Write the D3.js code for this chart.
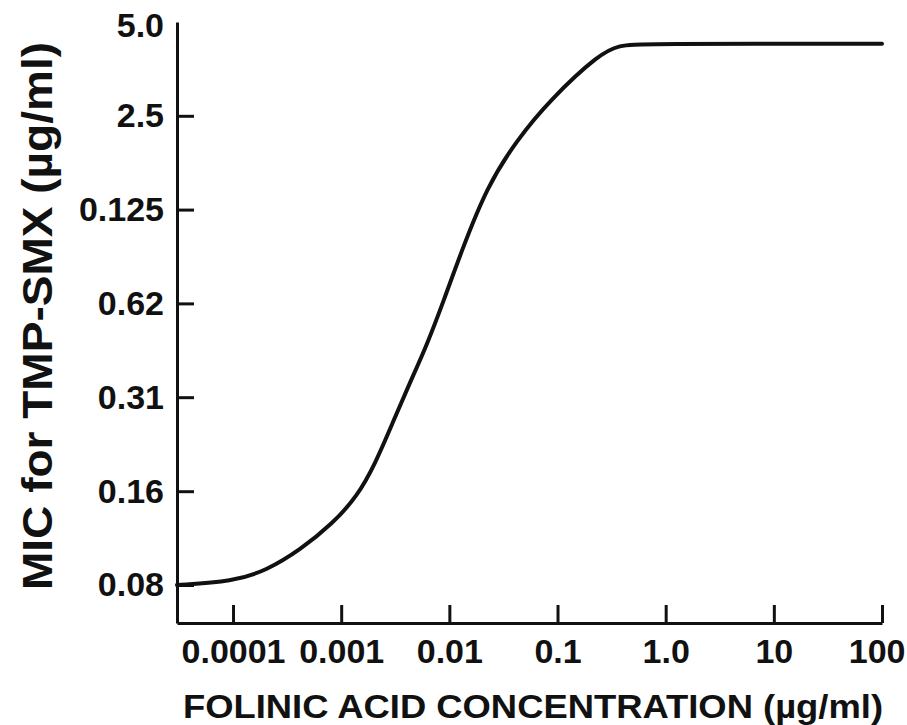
<!DOCTYPE html>
<html>
<head>
<meta charset="utf-8">
<style>
  body { margin: 0; background: white; }
  text { font-family: "Liberation Sans", Arial, sans-serif; fill: #111; }
</style>
</head>
<body>
<div id="container"></div>
<script src="https://cdn.jsdelivr.net/npm/d3@7"></script>
<script>

// folinic acid concentration (ug/ml)
var folinic = [3.03e-5, 1.0e-4, 2.06e-4, 4.16e-4, 8.39e-4, 1.40e-3, 2.05e-3, 3.01e-3,
               4.32e-3, 6.21e-3, 8.91e-3, 0.0131, 0.0222, 0.0421, 0.0851, 0.247, 0.377, 0.577, 100];

// MIC for TMP-SMX (ug/ml) at those concentrations
var mic = [0.078, 0.080, 0.087, 0.101, 0.123, 0.150, 0.190, 0.260,
           0.348, 0.460, 0.641, 0.929, 1.478, 2.092, 2.812, 3.97, 4.21, 4.26, 4.26];

// y ticks are twofold dilutions, labels as printed in the figure
var yTicks = [0.078, 0.156, 0.3125, 0.625, 1.25, 2.5, 5.0];
var yLabels = ["0.08", "0.16", "0.31", "0.62", "0.125", "2.5", "5.0"];

var xTicks = [0.0001, 0.001, 0.01, 0.1, 1, 10, 100];
var xLabels = ["0.0001", "0.001", "0.01", "0.1", "1.0", "10", "100"];

var W = 907, H = 725;

var svg = d3.select("#container")
  .append("svg")
    .attr("width", W)
    .attr("height", H);

// log scales, axis starts a bit left of 0.0001 and below 0.08
var x = d3.scaleLog()
  .domain([Math.pow(10, -4.518), 100])
  .range([177, 882]);

var y = d3.scaleLog()
  .base(2)
  .domain([0.0589, 5.0])
  .range([623, 22]);

// x axis, ticks pointing up
var xAxis = svg.append("g")
  .attr("transform", "translate(0,623)")
  .call(d3.axisBottom(x)
    .tickValues(xTicks)
    .tickFormat(function(d, i) { return xLabels[i]; })
    .tickSizeInner(-18)
    .tickSizeOuter(0)
    .tickPadding(16));

// last label runs to the edge, keep it inside
xAxis.selectAll(".tick text")
  .filter(function(d) { return d === 100; })
  .attr("text-anchor", "end")
  .attr("x", 23);

// y axis, ticks pointing right
var yAxis = svg.append("g")
  .attr("transform", "translate(177,0)")
  .call(d3.axisLeft(y)
    .tickValues(yTicks.slice(0, 6))
    .tickFormat(function(d, i) { return yLabels[i]; })
    .tickSizeInner(-17)
    .tickSizeOuter(0)
    .tickPadding(13));

// top label 5.0 has no tick, sits at end of axis
yAxis.append("text")
  .attr("x", -13)
  .attr("y", y(5.0) + 4)
  .attr("dy", "0.32em")
  .attr("text-anchor", "end")
  .text(yLabels[6]);

svg.selectAll(".domain, .tick line")
  .attr("stroke", "#111")
  .attr("stroke-width", 3);

svg.selectAll(".tick text, g > text")
  .style("font-size", "34px")
  .style("font-weight", "bold")
  .style("fill", "#111");

// axis titles
svg.append("text")
  .attr("x", 183)
  .attr("y", 718)
  .attr("textLength", 700)
  .attr("lengthAdjust", "spacingAndGlyphs")
  .style("font-size", "33px")
  .style("font-weight", "bold")
  .text("FOLINIC ACID CONCENTRATION (\u00b5g/ml)");

svg.append("text")
  .attr("transform", "translate(52,590) rotate(-90)")
  .attr("x", 0)
  .attr("y", 0)
  .attr("textLength", 548)
  .attr("lengthAdjust", "spacingAndGlyphs")
  .style("font-size", "43px")
  .style("font-weight", "bold")
  .text("MIC for TMP-SMX (\u00b5g/ml)");

// the curve
var pts = folinic.map(function(d, i) { return [d, mic[i]]; });

var line = d3.line()
  .x(function(d) { return x(d[0]); })
  .y(function(d) { return y(d[1]); })
  .curve(d3.curveBasis);

svg.append("path")
  .datum(pts)
  .attr("d", line)
  .attr("fill", "none")
  .attr("stroke", "#111")
  .attr("stroke-width", 4)
  .attr("stroke-linecap", "round");

</script>
</body>
</html>
